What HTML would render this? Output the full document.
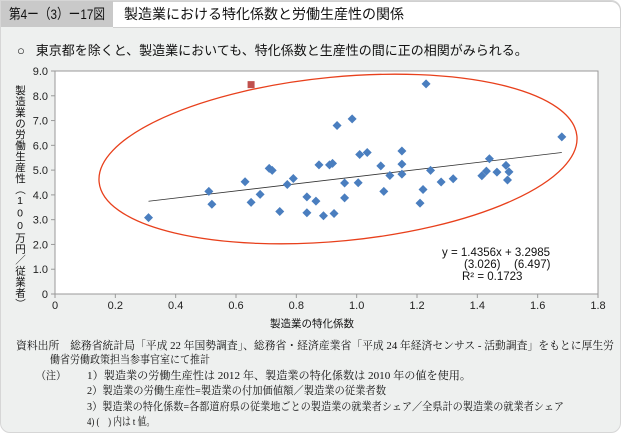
<!DOCTYPE html>
<html><head><meta charset="utf-8">
<style>
body{margin:0;width:621px;height:433px;overflow:hidden;background:#fff;font-family:"Liberation Sans","Noto Sans CJK JP",sans-serif;}
#panel{position:absolute;left:0;top:0;width:619px;height:431px;background:#eef0ef;border:1px solid #d6d6d6;border-radius:0 10px 10px 10px;}
#tab{position:absolute;left:0;top:0;width:112px;height:26px;background:#c9c9c9;}
#title{position:absolute;left:112px;top:0;width:507px;height:25px;background:#fff;border:1px solid #d0d0d0;border-left:none;border-radius:0 10px 0 0;font-size:14px;line-height:25px;text-indent:11px;color:#111;white-space:nowrap;}
#lead{position:absolute;left:16px;top:39px;font-size:13px;color:#111;white-space:nowrap;}
#ytitle{position:absolute;left:13px;top:84px;writing-mode:vertical-rl;text-orientation:upright;font-size:10.5px;letter-spacing:0.5px;line-height:12px;color:#111;}
</style></head><body>
<div id="panel">
<div id="tab"></div>
<div id="title">製造業における特化係数と労働生産性の関係</div>
<div id="lead">○&nbsp;&nbsp;&nbsp;東京都を除くと、製造業においても、特化係数と生産性の間に正の相関がみられる。</div>
<svg id="chart" width="621" height="433" style="position:absolute;left:0;top:0"></svg>
<div id="ytitle">製造業の労働生産性（100万円／従業者）</div>
</div>
<script>
const xs=[0.31,0.51,0.52,0.63,0.65,0.68,0.71,0.72,0.745,0.77,0.79,0.835,0.835,0.865,0.875,0.89,0.91,0.92,0.925,0.935,0.985,0.96,0.96,1.005,1.01,1.035,1.08,1.09,1.11,1.15,1.15,1.15,1.21,1.22,1.23,1.245,1.28,1.32,1.415,1.43,1.44,1.465,1.495,1.505,1.50,1.68];
const ys=[3.08,4.14,3.62,4.53,3.70,4.02,5.07,4.99,3.33,4.42,4.66,3.92,3.28,3.75,5.21,3.16,5.21,5.27,3.25,6.80,7.07,4.48,3.88,4.49,5.63,5.71,5.17,4.14,4.78,5.77,5.24,4.84,3.67,4.22,8.48,4.99,4.52,4.65,4.77,4.96,5.46,4.92,5.19,4.93,4.60,6.34];
const tokyoX=[0.65], tokyoY=[8.45];
const slope=1.4356, intercept=3.2985;
const xTicks=[0,0.2,0.4,0.6,0.8,1.0,1.2,1.4,1.6,1.8];
const yTicks=[0,1,2,3,4,5,6,7,8,9];
const NS="http://www.w3.org/2000/svg";
const svg=document.getElementById('chart');
const L=54,R=597,T=70,B=293;
const sx=v=>L+(v/1.8)*(R-L), sy=v=>B-(v/9)*(B-T);
function mk(t,a){const e=document.createElementNS(NS,t);for(const k in a)e.setAttribute(k,a[k]);svg.appendChild(e);return e;}
let tb=mk('text',{x:8,y:18,'font-size':14,fill:'#111',textLength:96,lengthAdjust:'spacingAndGlyphs'});tb.textContent='第4ー（3）ー17図';


let r=mk('rect',{x:L,y:T,width:R-L,height:B-T,fill:'#fff',stroke:'#999','stroke-width':1});


yTicks.forEach(v=>{const y=sy(v);
 mk('line',{x1:L-4,x2:L,y1:y,y2:y,stroke:'#999'});
 let t=mk('text',{x:L-7,y:y+4,'text-anchor':'end','font-size':11,fill:'#222'});t.textContent=v===0?'0':v.toFixed(1);
 
 });
xTicks.forEach(v=>{const x=sx(v);
 mk('line',{x1:x,x2:x,y1:B,y2:B+4,stroke:'#999'});
 let t=mk('text',{x:x,y:B+15,'text-anchor':'middle','font-size':11,fill:'#222'});t.textContent=v===0?'0':v.toFixed(1);
 
 });
let el=mk('ellipse',{cx:337,cy:158,rx:240,ry:82,fill:'none',stroke:'#e8401c','stroke-width':1.3,transform:'rotate(-5.5 337 158)'});


const x0=Math.min(...xs),x1=Math.max(...xs);
let tl=mk('line',{x1:sx(x0),y1:sy(slope*x0+intercept),x2:sx(x1),y2:sy(slope*x1+intercept),stroke:'#333','stroke-width':0.8});


xs.forEach((v,i)=>{const cx=sx(v),cy=sy(ys[i]);
 let p=mk('polygon',{points:`${cx},${cy-4.5} ${cx+4.5},${cy} ${cx},${cy+4.5} ${cx-4.5},${cy}`,fill:'#4a7ebf'});
 
 });
tokyoX.forEach((v,i)=>{let q=mk('rect',{x:sx(v)-3.5,y:sy(tokyoY[i])-3.5,width:7,height:7,fill:'#c0504d'});
 
 });
[['y = 1.4356x + 3.2985',441,255],['(3.026)',463,267],['(6.497)',513,267],['R² = 0.1723',461,279]].forEach(a=>{
 let t=mk('text',{x:a[1],y:a[2],'font-size':11.5,fill:'#111'});t.textContent=a[0];
 
 });
let xt=mk('text',{x:311,y:326,'text-anchor':'middle','font-size':10.5,fill:'#111'});xt.textContent='製造業の特化係数';


const notes=[
 ['資料出所　総務省統計局「平成 22 年国勢調査」、総務省・経済産業省「平成 24 年経済センサス - 活動調査」をもとに厚生労',15,348,598,'source-note'],
 ['働省労働政策担当参事官室にて推計',49,362,160,'source-note-cont'],
 ['（注）',35,378,30,'note-label'],
 ['1）製造業の労働生産性は 2012 年、製造業の特化係数は 2010 年の値を使用。',86,378,384,'note-1'],
 ['2）製造業の労働生産性=製造業の付加価値額／製造業の従業者数',86,393,299,'note-2'],
 ['3）製造業の特化係数=各都道府県の従業地ごとの製造業の就業者シェア／全県計の製造業の就業者シェア',86,409,477,'note-3'],
 ['4) (　) 内は t 値。',86,424,68,'note-4']];
notes.forEach(n=>{let t=mk('text',{x:n[1],y:n[2],'font-size':11,fill:'#111','font-family':'"Liberation Serif","Noto Serif CJK SC",serif',textLength:n[3],lengthAdjust:'spacingAndGlyphs'});t.textContent=n[0];
 
 });
</script>
</body></html>
